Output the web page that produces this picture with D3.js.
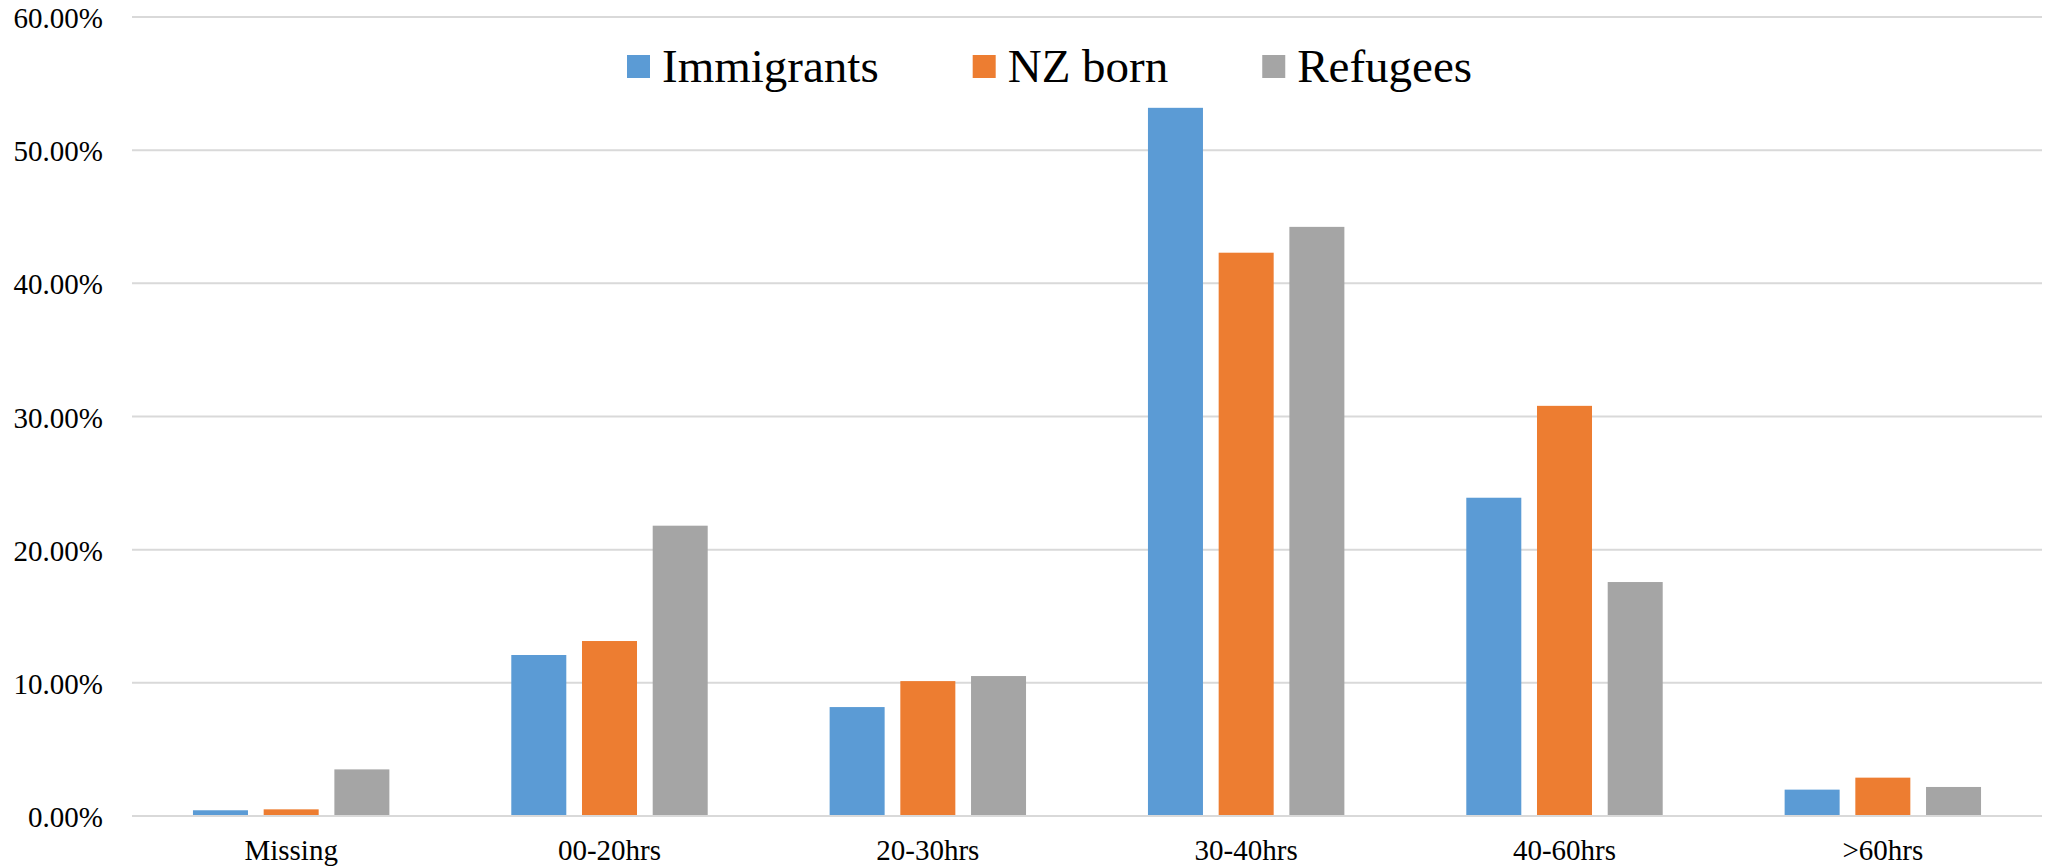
<!DOCTYPE html>
<html>
<head>
<meta charset="utf-8">
<script src="https://cdn.jsdelivr.net/npm/d3@7"></script>
<style>
  html, body { margin: 0; padding: 0; background: #fff; }
  svg { display: block; }
  text { font-family: "Liberation Serif", "Times New Roman", serif; fill: #000; }
</style>
</head>
<body>
<script>
const categories = ["Missing", "00-20hrs", "20-30hrs", "30-40hrs", "40-60hrs", ">60hrs"];
const seriesNames = ["Immigrants", "NZ born", "Refugees"];
const immigrants = [0.0043, 0.1209, 0.0818, 0.5318, 0.2390, 0.0198];
const nzBorn     = [0.0050, 0.1314, 0.1013, 0.4230, 0.3080, 0.0288];
const refugees   = [0.0350, 0.2180, 0.1051, 0.4424, 0.1757, 0.0218];
const yTicks = [0, 0.1, 0.2, 0.3, 0.4, 0.5, 0.6];
const colors = ["#5B9BD5", "#ED7D31", "#A5A5A5"];

const seriesValues = [immigrants, nzBorn, refugees];

const W = 2049, H = 867;
const svg = d3.select("body").append("svg").attr("width", W).attr("height", H);

const x0 = d3.scaleBand().domain(categories).range([132, 2042]).paddingInner(0).paddingOuter(0);
const groupW = x0.bandwidth() * 0.617;
const x1 = d3.scaleBand().domain(seriesNames).range([-groupW / 2, groupW / 2]).paddingInner(0.222).paddingOuter(0);
const y = d3.scaleLinear().domain([0, 0.6]).range([816, 17]);

// gridlines
svg.append("g").selectAll("line").data(yTicks).join("line")
  .attr("x1", 132).attr("x2", 2042)
  .attr("y1", d => y(d)).attr("y2", d => y(d))
  .attr("stroke", "#D9D9D9").attr("stroke-width", 2);

// y axis labels
const fmt = d3.format(".2%");
svg.append("g").selectAll("text").data(yTicks).join("text")
  .attr("x", 103).attr("y", d => y(d) + 11)
  .attr("text-anchor", "end")
  .style("font-size", "29px")
  .text(d => fmt(d));

// bars
const groups = svg.append("g").selectAll("g").data(categories).join("g")
  .attr("transform", c => `translate(${x0(c) + x0.bandwidth() / 2},0)`);
groups.selectAll("rect")
  .data((c, i) => seriesNames.map((s, j) => ({ s, j, v: seriesValues[j][i] })))
  .join("rect")
  .attr("x", d => x1(d.s))
  .attr("width", x1.bandwidth())
  .attr("y", d => y(d.v))
  .attr("height", d => y(0) - y(d.v))
  .attr("fill", d => colors[d.j]);

// redraw zero line on top
svg.append("line").attr("x1", 132).attr("x2", 2042).attr("y1", y(0)).attr("y2", y(0))
  .attr("stroke", "#D9D9D9").attr("stroke-width", 2);

// category labels
svg.append("g").selectAll("text").data(categories).join("text")
  .attr("x", c => x0(c) + x0.bandwidth() / 2)
  .attr("y", 860)
  .attr("text-anchor", "middle")
  .style("font-size", "29px")
  .text(c => c);

// legend
const legend = svg.append("g");
let lx = 627;
seriesNames.forEach((s, j) => {
  legend.append("rect").attr("x", lx).attr("y", 55).attr("width", 23).attr("height", 23).attr("fill", colors[j]);
  const t = legend.append("text").attr("x", lx + 35).attr("y", 81.5)
    .style("font-size", "47px").text(s);
  const w = t.node().getComputedTextLength();
  lx = lx + 35 + w + 94;
});
</script>
</body>
</html>
